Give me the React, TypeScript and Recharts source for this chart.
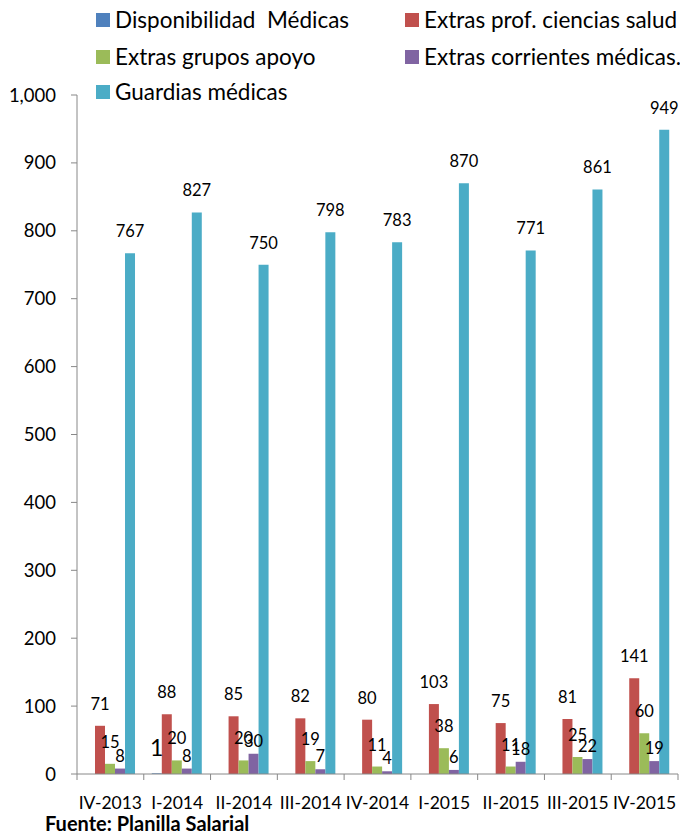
import { BarChart, Bar, XAxis, YAxis, LabelList } from "recharts"

// Trimestres
const categorias = ["IV-2013", "I-2014", "II-2014", "III-2014", "IV-2014", "I-2015", "II-2015", "III-2015", "IV-2015"]

// Valores por serie
const disponibilidad = [null, 1, null, null, null, null, null, null, null]
const extrasProf = [71, 88, 85, 82, 80, 103, 75, 81, 141]
const extrasApoyo = [15, 20, 20, 19, 11, 38, 11, 25, 60]
const extrasCorrientes = [8, 8, 30, 7, 4, 6, 18, 22, 19]
const guardias = [767, 827, 750, 798, 783, 870, 771, 861, 949]

const yTicks = [0, 100, 200, 300, 400, 500, 600, 700, 800, 900, 1000]

const FONT = "Lato, 'Noto Sans', sans-serif"

const series = [
  { key: "disp", name: "Disponibilidad  Médicas", color: "#4F81BD", values: disponibilidad, offset: 17, size: 23 },
  { key: "prof", name: "Extras prof. ciencias salud", color: "#C0504D", values: extrasProf, offset: 16, size: 16.5 },
  { key: "apoyo", name: "Extras grupos apoyo", color: "#9BBB59", values: extrasApoyo, offset: 16, size: 16.5 },
  { key: "corr", name: "Extras corrientes médicas.", color: "#8064A2", values: extrasCorrientes, offset: 7, size: 16.5 },
  { key: "guard", name: "Guardias médicas", color: "#4BACC6", values: guardias, offset: 16, size: 16.5 },
]

const data = categorias.map((cat, i) => {
  const row: any = { cat }
  series.forEach((s) => {
    row[s.key] = s.values[i]
  })
  return row
})

const W = 680
const H = 835
const M = { top: 95, right: 2, left: 0, bottom: 31 }
const Y_W = 77
const band = (W - M.left - M.right - Y_W) / categorias.length

const XTick = ({ x, y, payload, index }: any) => {
  const half = payload?.offset || band / 2
  return (
    <g>
      <line x1={x - half} x2={x - half} y1={y} y2={y + 6} stroke="#888" />
      {index === categorias.length - 1 && (
        <line x1={x + half} x2={x + half} y1={y} y2={y + 6} stroke="#888" />
      )}
      <text x={x} y={y + 35} textAnchor="middle" fontSize={17.5} fontFamily={FONT} fill="#000">
        {payload.value}
      </text>
    </g>
  )
}

const legendRows = [[series[0], series[1]], [series[2], series[3]], [series[4]]]
const legendTops = [6, 43, 78]
const legendCols = [96, 405]

export default function App() {
  return (
    <div style={{ position: "absolute", left: 0, top: 0, width: W, height: H, background: "#fff", fontFamily: FONT }}>
      <BarChart width={W} height={H} data={data} margin={M} barCategoryGap="12%" barGap={0}>
        <XAxis
          dataKey="cat"
          stroke="#888"
          tickLine={false}
          tickSize={0}
          tickMargin={0}
          tick={<XTick />}
          interval={0}
          height={30}
        />
        <YAxis
          domain={[0, 1000]}
          ticks={yTicks}
          width={Y_W}
          stroke="#888"
          tickSize={6}
          tickMargin={15}
          tickFormatter={(v: number) => v.toLocaleString("en-US")}
          tick={{ fill: "#000", fontSize: 18.5, fontFamily: FONT }}
        />
        {series.map((s) => (
          <Bar key={s.key} dataKey={s.key} name={s.name} fill={s.color} isAnimationActive={false}>
            <LabelList
              dataKey={s.key}
              position="top"
              offset={s.offset}
              fill="#000"
              fontSize={s.size}
              fontFamily={FONT}
            />
          </Bar>
        ))}
      </BarChart>
      {legendRows.map((row, r) =>
        row.map((s, c) => (
          <div
            key={s.key}
            style={{
              position: "absolute",
              left: legendCols[c],
              top: legendTops[r],
              display: "flex",
              alignItems: "center",
              fontSize: 22.5,
              lineHeight: "28px",
              color: "#000",
              whiteSpace: "pre",
            }}
          >
            <span style={{ width: 14, height: 14, background: s.color, marginRight: 5, display: "inline-block" }} />
            {s.name}
          </div>
        ))
      )}
      <div style={{ position: "absolute", left: 45, top: 811, fontSize: 20, fontWeight: "bold", color: "#000" }}>
        Fuente: Planilla Salarial
      </div>
    </div>
  )
}
